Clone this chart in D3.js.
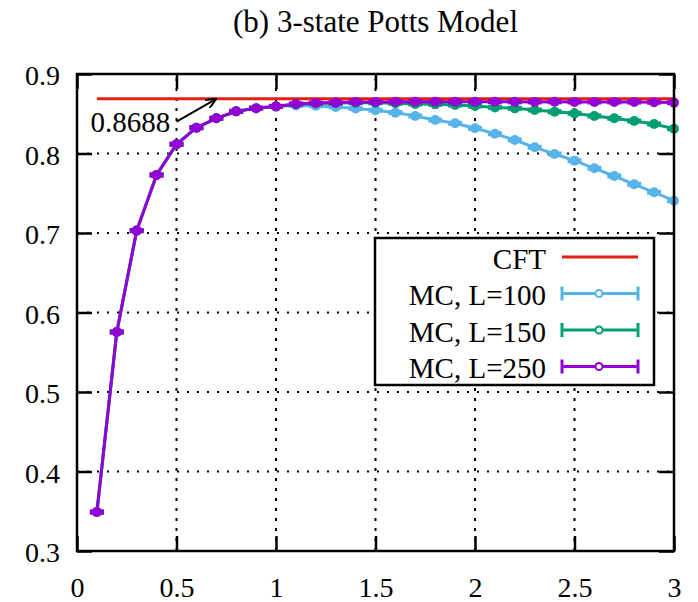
<!DOCTYPE html>
<html>
<head>
<meta charset="utf-8">
<script src="https://cdn.jsdelivr.net/npm/d3@7"></script>
<style>
  body { margin: 0; background: #fff; }
  svg text { font-family: "Liberation Serif", "Times New Roman", serif !important; fill: #000; }
</style>
</head>
<body>
<script>
// data
var xs = [0.1, 0.2, 0.3, 0.4, 0.5, 0.6, 0.7, 0.8, 0.9, 1.0,
          1.1, 1.2, 1.3, 1.4, 1.5, 1.6, 1.7, 1.8, 1.9, 2.0,
          2.1, 2.2, 2.3, 2.4, 2.5, 2.6, 2.7, 2.8, 2.9, 3.0];
var mcL100 = [0.349, 0.5755, 0.703, 0.773, 0.8116, 0.8325, 0.8443, 0.853, 0.857, 0.8590,
              0.8605, 0.8600, 0.8585, 0.8565, 0.8545, 0.8514, 0.8472, 0.8421, 0.8380, 0.8317,
              0.8249, 0.8170, 0.8078, 0.7994, 0.7910, 0.7814, 0.7717, 0.7613, 0.7512, 0.7406];
var mcL150 = [0.349, 0.5755, 0.703, 0.773, 0.8116, 0.8325, 0.8443, 0.853, 0.857, 0.8592,
              0.8620, 0.8630, 0.8635, 0.8638, 0.8638, 0.8631, 0.8622, 0.8618, 0.8610, 0.8597,
              0.8580, 0.8568, 0.8547, 0.8526, 0.8505, 0.8472, 0.8443, 0.8409, 0.8371, 0.8312];
var mcL250 = [0.349, 0.5755, 0.703, 0.773, 0.8116, 0.8325, 0.8443, 0.853, 0.857, 0.8593,
              0.8623, 0.8635, 0.8640, 0.8648, 0.8648, 0.8650, 0.8650, 0.8651, 0.8650, 0.8650,
              0.8651, 0.8650, 0.8649, 0.8650, 0.8649, 0.8648, 0.8648, 0.8647, 0.8645, 0.8640];
var cftValue = 0.8688;
var cftRange = [0.1, 3];
var xTicks = [0, 0.5, 1, 1.5, 2, 2.5, 3];
var yTicks = [0.3, 0.4, 0.5, 0.6, 0.7, 0.8, 0.9];
var seriesNames = ["MC, L=100", "MC, L=150", "MC, L=250"];
var seriesColors = ["#56b4e9", "#009e73", "#9400d3"];
var cftColor = "#e51e10";

var W = 698, H = 602;
var mL = 77, mR = 674, mT = 74, mB = 551;
var serif = "Liberation Serif";

var x = d3.scaleLinear().domain([0, 3]).range([mL, mR]);
var y = d3.scaleLinear().domain([0.3, 0.9]).range([mB, mT]);

var svg = d3.select("body").append("svg")
    .attr("width", W)
    .attr("height", H)
    .attr("font-family", serif);

svg.append("rect").attr("width", W).attr("height", H).attr("fill", "#fff");

// title
svg.append("text")
    .attr("x", (mL + mR) / 2)
    .attr("y", 32)
    .attr("text-anchor", "middle")
    .style("font-size", "31px")
    .text("(b) 3-state Potts Model");

// grid (dotted)
var grid = svg.append("g");
grid.selectAll("line.gx")
    .data(xTicks.slice(1, -1))
    .enter().append("line")
    .attr("x1", function(d) { return x(d); })
    .attr("x2", function(d) { return x(d); })
    .attr("y1", mB).attr("y2", mT)
    .attr("stroke", "#000").attr("stroke-width", 2)
    .attr("stroke-dasharray", "3,7");
grid.selectAll("line.gy")
    .data(yTicks.slice(1, -1))
    .enter().append("line")
    .attr("y1", function(d) { return y(d); })
    .attr("y2", function(d) { return y(d); })
    .attr("x1", mL).attr("x2", mR)
    .attr("stroke", "#000").attr("stroke-width", 2)
    .attr("stroke-dasharray", "2,8");

// axes with inward ticks
function styleAxis(g) {
  g.attr("font-family", serif).attr("font-size", 28);
  g.select(".domain").remove();
  g.selectAll(".tick line").attr("stroke", "#000").attr("stroke-width", 2.5);
  g.selectAll(".tick text")
    .attr("font-family", serif)
    .style("font-size", "28px")
    .attr("fill", "#000");
}

svg.append("g")
    .attr("transform", "translate(" + mL + ",0)")
    .call(d3.axisLeft(y).tickValues(yTicks).tickSizeInner(-15).tickSizeOuter(0).tickPadding(17).tickFormat(d3.format("")))
    .call(styleAxis)
    .selectAll(".tick text").attr("dy", "0.38em");

svg.append("g")
    .attr("transform", "translate(0," + mB + ")")
    .call(d3.axisBottom(x).tickValues(xTicks).tickSizeInner(-15).tickSizeOuter(0).tickPadding(26).tickFormat(d3.format("")))
    .call(styleAxis);

svg.append("g")
    .attr("transform", "translate(" + mR + ",0)")
    .call(d3.axisRight(y).tickValues(yTicks).tickSizeInner(-15).tickSizeOuter(0).tickFormat(""))
    .call(styleAxis);

svg.append("g")
    .attr("transform", "translate(0," + mT + ")")
    .call(d3.axisTop(x).tickValues(xTicks).tickSizeInner(-15).tickSizeOuter(0).tickFormat(""))
    .call(styleAxis);

// clip for error-bar caps
svg.append("clipPath").attr("id", "plotClip")
  .append("rect").attr("x", mL).attr("y", mT)
  .attr("width", mR - mL).attr("height", mB - mT);

// CFT line
svg.append("line")
    .attr("x1", x(cftRange[0])).attr("x2", x(cftRange[1]))
    .attr("y1", y(cftValue)).attr("y2", y(cftValue))
    .attr("stroke", cftColor).attr("stroke-width", 3);

// MC series
var allSeries = [mcL100, mcL150, mcL250];
var line = d3.line()
    .x(function(d, i) { return x(xs[i]); })
    .y(function(d) { return y(d); });

allSeries.forEach(function(vals, k) {
  var col = seriesColors[k];
  var g = svg.append("g");
  g.append("path")
    .datum(vals)
    .attr("d", line)
    .attr("fill", "none")
    .attr("stroke", col)
    .attr("stroke-width", 3);
  g.append("g").attr("clip-path", "url(#plotClip)")
    .selectAll("line")
    .data(vals)
    .enter().append("line")
    .attr("x1", function(d, i) { return x(xs[i]) - 7; })
    .attr("x2", function(d, i) { return x(xs[i]) + 7; })
    .attr("y1", function(d) { return y(d); })
    .attr("y2", function(d) { return y(d); })
    .attr("stroke", col).attr("stroke-width", 5);
  g.selectAll("circle")
    .data(vals)
    .enter().append("circle")
    .attr("cx", function(d, i) { return x(xs[i]); })
    .attr("cy", function(d) { return y(d); })
    .attr("r", 5)
    .attr("fill", col);
});

// annotation
svg.append("defs").append("marker")
    .attr("id", "arrow")
    .attr("viewBox", "0 0 12 10")
    .attr("refX", 11).attr("refY", 5)
    .attr("markerWidth", 12).attr("markerHeight", 10)
    .attr("markerUnits", "userSpaceOnUse")
    .attr("orient", "auto")
  .append("path")
    .attr("d", "M0,0 L11,5 L0,10")
    .attr("fill", "none").attr("stroke", "#000").attr("stroke-width", 2);

svg.append("line")
    .attr("x1", x(0.5)).attr("y1", y(0.84))
    .attr("x2", x(0.7)).attr("y2", y(cftValue))
    .attr("stroke", "#000").attr("stroke-width", 2)
    .attr("marker-end", "url(#arrow)");

svg.append("text")
    .attr("x", x(0.468))
    .attr("y", y(0.827))
    .attr("text-anchor", "end")
    .attr("font-family", serif)
    .style("font-size", "29px")
    .text(cftValue);

// legend
var lg = svg.append("g");
lg.append("rect")
    .attr("x", 375).attr("y", 238)
    .attr("width", 279).attr("height", 147)
    .attr("fill", "#fff").attr("stroke", "#000").attr("stroke-width", 2.5);

var legNames = ["CFT"].concat(seriesNames);
var legColors = [cftColor].concat(seriesColors);
legNames.forEach(function(name, i) {
  var ly = 257 + i * 36.5;
  lg.append("text")
    .attr("x", 546).attr("y", ly + 11.5)
    .attr("text-anchor", "end")
    .style("font-size", "29px")
    .text(name);
  lg.append("line")
    .attr("x1", 562).attr("x2", 638)
    .attr("y1", ly).attr("y2", ly)
    .attr("stroke", legColors[i]).attr("stroke-width", 3);
  if (i > 0) {
    [562, 638].forEach(function(cx) {
      lg.append("line")
        .attr("x1", cx).attr("x2", cx)
        .attr("y1", ly - 7).attr("y2", ly + 7)
        .attr("stroke", legColors[i]).attr("stroke-width", 3);
    });
    lg.append("circle")
      .attr("cx", 599).attr("cy", ly).attr("r", 3.5)
      .attr("fill", "#fff")
      .attr("stroke", legColors[i]).attr("stroke-width", 2);
  }
});

// frame
svg.append("rect")
    .attr("x", mL).attr("y", mT)
    .attr("width", mR - mL).attr("height", mB - mT)
    .attr("fill", "none").attr("stroke", "#000").attr("stroke-width", 2.5);
</script>
</body>
</html>
